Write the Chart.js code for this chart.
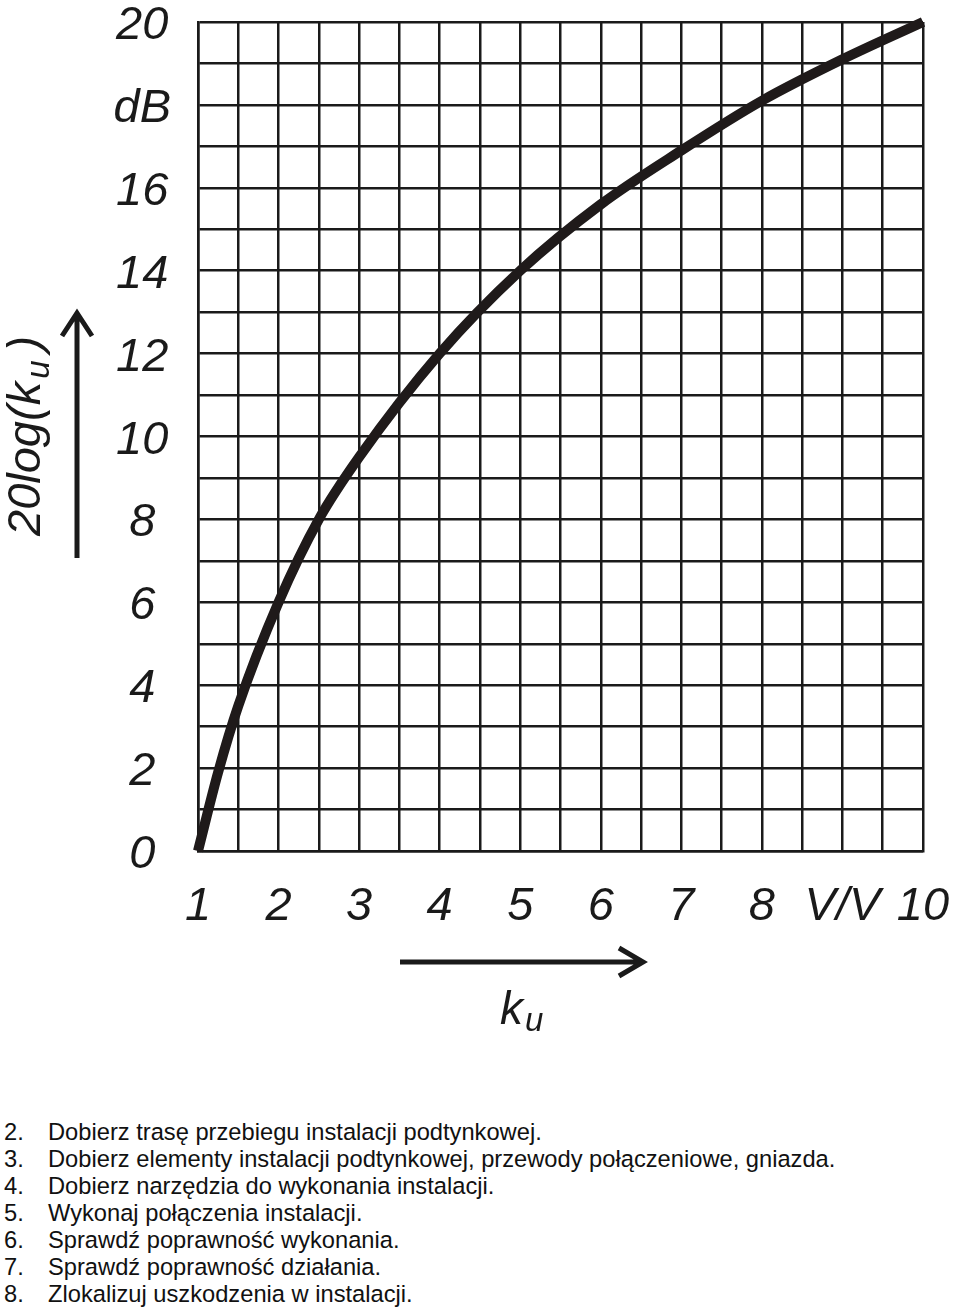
<!DOCTYPE html>
<html>
<head>
<meta charset="utf-8">
<script src="https://cdn.jsdelivr.net/npm/chart.js@4/dist/chart.umd.min.js"></script>
<style>
  html, body { margin: 0; padding: 0; background: #fff; }
  body { width: 960px; height: 1310px; position: relative; overflow: hidden; }
  #wrap { position: absolute; left: 0; top: 0; width: 960px; height: 1100px; }
  #steps {
    position: absolute; left: 4px; top: 1119px;
    font-family: "Liberation Sans", Arial, sans-serif; font-size: 23.7px; line-height: 27px;
    color: #111;
  }
  #steps div { display: flex; white-space: nowrap; }
  #steps span.n { width: 44px; }
</style>
</head>
<body>
<div id="wrap"><canvas id="gainChart" width="960" height="1100"></canvas></div>
<div id="steps"></div>

<script>
// ── Data ────────────────────────────────────────────────────────────────────
const kuValues = [1, 1.25, 1.5, 2, 2.5, 3, 4, 5, 6, 7, 8, 9, 10];
const dbValues = [0, 1.9, 3.5, 6.0, 8.0, 9.5, 12.0, 14.0, 15.6, 16.9, 18.1, 19.1, 20.0];

const xTickLabels = { 1: '1', 2: '2', 3: '3', 4: '4', 5: '5', 6: '6', 7: '7', 8: '8', 9: 'V/V', 10: '10' };
const yTickLabels = { 0: '0', 2: '2', 4: '4', 6: '6', 8: '8', 10: '10', 12: '12', 14: '14', 16: '16', 18: 'dB', 20: '20' };

const steps = [
  ['2.', 'Dobierz trasę przebiegu instalacji podtynkowej.'],
  ['3.', 'Dobierz elementy instalacji podtynkowej, przewody połączeniowe, gniazda.'],
  ['4.', 'Dobierz narzędzia do wykonania instalacji.'],
  ['5.', 'Wykonaj połączenia instalacji.'],
  ['6.', 'Sprawdź poprawność wykonania.'],
  ['7.', 'Sprawdź poprawność działania.'],
  ['8.', 'Zlokalizuj uszkodzenia w instalacji.']
];

const ink = '#1a1a1a';
const fontFam = '"Liberation Sans", Arial, sans-serif';

// ── Axis titles and arrows ──────────────────────────────────────────────────
const decorPlugin = {
  id: 'decor',
  afterDraw(chart) {
    const ctx = chart.ctx;
    ctx.save();
    ctx.fillStyle = ink;
    ctx.strokeStyle = ink;
    ctx.textBaseline = 'alphabetic';
    ctx.textAlign = 'left';

    // y title: 20log(k_u) rotated
    ctx.save();
    ctx.translate(40, 536);
    ctx.rotate(-Math.PI / 2);
    ctx.font = 'italic 47px ' + fontFam;
    const main = '20log(k';
    ctx.fillText(main, 0, 0);
    let w = ctx.measureText(main).width;
    ctx.font = 'italic 33px ' + fontFam;
    ctx.fillText('u', w + 3, 9);
    w += ctx.measureText('u').width + 12;
    ctx.font = 'italic 47px ' + fontFam;
    ctx.fillText(')', w, 0);
    ctx.restore();

    // x title: k_u
    ctx.font = 'italic 46px ' + fontFam;
    ctx.fillText('k', 500, 1024);
    ctx.font = 'italic 33px ' + fontFam;
    ctx.fillText('u', 525, 1031);

    // arrows
    ctx.lineWidth = 5;
    ctx.lineCap = 'butt';
    ctx.lineJoin = 'miter';
    ctx.beginPath();
    ctx.moveTo(77, 558); ctx.lineTo(77, 314);
    ctx.moveTo(62, 336); ctx.lineTo(77, 313); ctx.lineTo(92, 336);
    ctx.moveTo(400, 962); ctx.lineTo(642, 962);
    ctx.moveTo(619, 948); ctx.lineTo(643, 962); ctx.lineTo(619, 976);
    ctx.stroke();
    ctx.restore();
  }
};

// ── Chart ───────────────────────────────────────────────────────────────────
const tickFont = { family: fontFam, size: 47, style: 'italic' };

const gainCtx = document.getElementById('gainChart').getContext('2d');
const gainChart = new Chart(gainCtx, {
  type: 'line',
  data: {
    datasets: [{
      data: kuValues.map((k, i) => ({ x: k, y: dbValues[i] })),
      borderColor: '#1f1a1a',
      borderWidth: 10,
      borderCapStyle: 'butt',
      cubicInterpolationMode: 'monotone',
      pointRadius: 0,
      fill: false,
      clip: false
    }]
  },
  options: {
    responsive: false,
    animation: false,
    events: [],
    layout: { padding: { left: 0, top: 22, right: 37, bottom: 0 } },
    plugins: { legend: { display: false }, tooltip: { enabled: false } },
    scales: {
      x: {
        type: 'linear', min: 1, max: 10,
        afterFit(s) { s.height = 249; s.paddingLeft = 0; s.paddingRight = 0; },
        ticks: {
          stepSize: 0.5, autoSkip: false, maxRotation: 0, padding: 28,
          color: ink, font: tickFont,
          callback: v => xTickLabels[v] || ''
        },
        grid: { color: ink, lineWidth: 2.5, drawTicks: false },
        border: { color: ink, width: 2.5 }
      },
      y: {
        type: 'linear', min: 0, max: 20,
        afterFit(s) { s.width = 198; s.paddingTop = 0; s.paddingBottom = 0; },
        ticks: {
          stepSize: 1, autoSkip: false, padding: 27, labelOffset: 4, crossAlign: 'center',
          color: ink, font: tickFont,
          callback: v => yTickLabels[v] || ''
        },
        grid: { color: ink, lineWidth: 2.5, drawTicks: false },
        border: { color: ink, width: 2.5 }
      }
    }
  },
  plugins: [decorPlugin]
});

// ── Steps list ──────────────────────────────────────────────────────────────
const stepsEl = document.getElementById('steps');
steps.forEach(([n, t]) => {
  const row = document.createElement('div');
  const a = document.createElement('span'); a.className = 'n'; a.textContent = n;
  const b = document.createElement('span'); b.textContent = t;
  row.appendChild(a); row.appendChild(b);
  stepsEl.appendChild(row);
});
</script>
</body>
</html>
